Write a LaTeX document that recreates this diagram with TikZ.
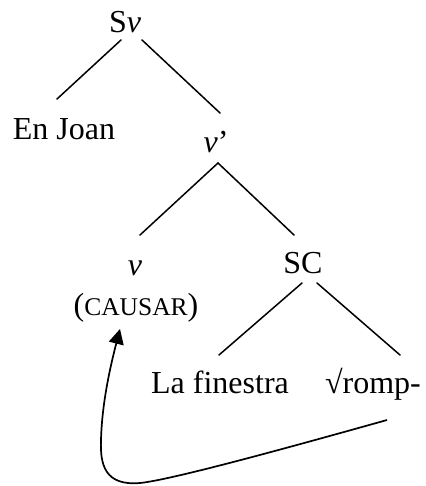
\documentclass[tikz,border=0pt]{standalone}
\usepackage{fontspec}
\setmainfont{Liberation Serif}
\usetikzlibrary{arrows.meta}
\begin{document}
\begin{tikzpicture}[x=1pt,y=-1pt,
  lbl/.style={anchor=base,inner sep=0pt,font=\fontsize{32}{36}\selectfont},
  branch/.style={line width=1.5pt,line cap=round},
  move/.style={line width=1.7pt,-{Triangle[length=15pt,width=15pt]}}]
\useasboundingbox (0,0) rectangle (425,486);
\node[lbl] (sv) at (125,33) {S\textit{v}};
\node[lbl] (enjoan) at (64,140) {En Joan};
\node[lbl] (vbar) at (216,153) {\textit{v}’};
\node[lbl] (v) at (135,275) {\textit{v}};
\node[lbl] (causar) at (136,315) {({\fontsize{25.5}{30}\selectfont CAUSAR})};
\node[lbl] (sc) at (303,273) {SC};
\node[lbl] (finestra) at (220,393) {La finestra};
\node[lbl] (romp) at (373,393) {√romp-};
% branch end points
\coordinate (sv-l) at (121,40);
\coordinate (ej-t) at (57,99);
\coordinate (sv-r) at (142,40);
\coordinate (vb-t) at (220,113);
\coordinate (vb-b) at (218,163);
\coordinate (v-t) at (140,235);
\coordinate (sc-t) at (294,235);
\coordinate (sc-l) at (302,283);
\coordinate (fin-t) at (219,355);
\coordinate (sc-r) at (317,283);
\coordinate (romp-t) at (400,355);
\coordinate (mv-s) at (387,420);
\coordinate (mv-e) at (120,329);
\draw[branch] (sv-l) -- (ej-t);
\draw[branch] (sv-r) -- (vb-t);
\draw[branch] (vb-b) -- (v-t);
\draw[branch] (vb-b) -- (sc-t);
\draw[branch] (sc-l) -- (fin-t);
\draw[branch] (sc-r) -- (romp-t);
\draw[move] (mv-s) .. controls (280,450) and (170,480) .. (140,483)
  .. controls (105,486) and (100,465) .. (101,440)
  .. controls (102,400) and (112,360) .. (mv-e);
\end{tikzpicture}
\end{document}
